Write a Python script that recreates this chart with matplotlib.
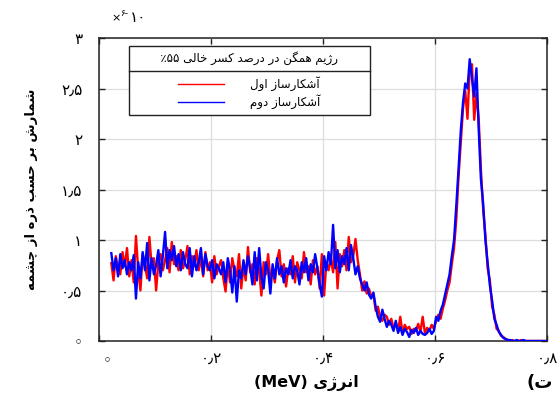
import numpy as np
import matplotlib
matplotlib.use("Agg")
import matplotlib.pyplot as plt
from matplotlib.ticker import FuncFormatter
from matplotlib.lines import Line2D

plt.rcParams["font.family"] = ["DejaVu Sans"]

# ---------------------------------------------------------------- data
# spectrum sampled every 4 keV starting at 0.022 MeV, counts in units of 1e-6
energy_start = 0.022
energy_step = 0.004

detector1 = [  # red
    0.77, 0.60, 0.84, 0.72, 0.66, 0.88, 0.74, 0.92, 0.64, 0.80,
    0.58, 1.04, 0.70, 0.50, 0.86, 0.76, 0.62, 1.03, 0.74, 0.82,
    0.50, 0.78, 0.86, 0.70, 0.80, 0.92, 0.68, 0.98, 0.76, 0.84,
    0.70, 0.90, 0.72, 0.80, 0.94, 0.66, 0.84, 0.74, 0.90, 0.70,
    0.82, 0.64, 0.88, 0.70, 0.78, 0.58, 0.84, 0.66, 0.74, 0.80,
    0.62, 0.49, 0.76, 0.58, 0.82, 0.70, 0.64, 0.86, 0.52, 0.74,
    0.60, 0.93, 0.68, 0.76, 0.56, 0.82, 0.70, 0.45, 0.78, 0.66,
    0.86, 0.62, 0.70, 0.58, 0.80, 0.90, 0.64, 0.76, 0.54, 0.72,
    0.66, 0.84, 0.58, 0.78, 0.70, 0.62, 0.88, 0.68, 0.74, 0.56,
    0.80, 0.66, 0.74, 0.52, 0.86, 0.45, 0.78, 0.70, 0.82, 0.68,
    0.98, 0.52, 0.86, 0.74, 0.90, 0.70, 1.03, 0.78, 0.84, 1.01,
    0.80, 0.66, 0.50, 0.59, 0.47, 0.52, 0.44, 0.47, 0.30, 0.34,
    0.24, 0.20, 0.26, 0.24, 0.16,
    0.22, 0.12, 0.18, 0.10, 0.24, 0.08, 0.16, 0.12, 0.14, 0.07,
    0.12, 0.10, 0.17, 0.09, 0.24, 0.08, 0.13, 0.10, 0.16, 0.12,
    0.20, 0.26, 0.22, 0.32, 0.40, 0.50, 0.58, 0.76, 0.92, 1.20,
    1.62, 1.96, 2.30, 2.48, 2.20, 2.70, 2.74, 2.19, 2.45, 2.20,
    1.70, 1.30, 1.05, 0.72, 0.60, 0.34, 0.26, 0.12, 0.10, 0.05,
    0.04, 0.02, 0.01,
    0.00, 0.01, 0.00, 0.00, 0.00, 0.01, 0.00, 0.00, 0.00, 0.00,
    0.00, 0.00, 0.00, 0.00, 0.00, 0.00, 0.00,
]

detector2 = [  # blue
    0.87, 0.70, 0.82, 0.64, 0.86, 0.72, 0.80, 0.66, 0.78, 0.70,
    0.85, 0.42, 0.78, 0.62, 0.88, 0.70, 0.97, 0.60, 0.82, 0.66,
    0.75, 0.90, 0.64, 0.84, 1.08, 0.72, 0.90, 0.80, 0.94, 0.74,
    0.86, 0.70, 0.88, 0.76, 0.72, 0.92, 0.64, 0.84, 0.70, 0.78,
    0.92, 0.66, 0.86, 0.74, 0.70, 0.80, 0.62, 0.76, 0.72, 0.66,
    0.78, 0.58, 0.82, 0.70, 0.48, 0.74, 0.39, 0.70, 0.62, 0.80,
    0.66, 0.84, 0.72, 0.56, 0.88, 0.60, 0.92, 0.64, 0.52, 0.78,
    0.70, 0.47, 0.76, 0.62, 0.82, 0.66, 0.74, 0.58, 0.72, 0.66,
    0.80, 0.62, 0.74, 0.70, 0.56, 0.78, 0.68, 0.82, 0.60, 0.76,
    0.68, 0.86, 0.72, 0.56, 0.44, 0.84, 0.70, 0.88, 0.76, 1.15,
    0.72, 0.90, 0.68, 0.84, 0.76, 0.92, 0.70, 0.95, 0.82, 0.66,
    0.74, 0.62, 0.56, 0.50, 0.58, 0.46, 0.42, 0.48, 0.34, 0.24,
    0.19, 0.31, 0.22, 0.14, 0.20,
    0.16, 0.10, 0.20, 0.08, 0.14, 0.06, 0.12, 0.09, 0.04, 0.11,
    0.08, 0.13, 0.06, 0.10, 0.07, 0.06, 0.08, 0.12, 0.07, 0.10,
    0.24, 0.20, 0.30, 0.36, 0.46, 0.56, 0.66, 0.84, 1.00, 1.34,
    1.70, 2.08, 2.36, 2.55, 2.50, 2.79, 2.60, 2.42, 2.70, 2.10,
    1.60, 1.36, 1.00, 0.78, 0.55, 0.40, 0.22, 0.16, 0.09, 0.06,
    0.03, 0.02, 0.01,
    0.01, 0.00, 0.00, 0.01, 0.00, 0.00, 0.01, 0.00, 0.00, 0.00,
    0.00, 0.00, 0.00, 0.00, 0.00, 0.00, 0.00,
]

x_ticks = [0.0, 0.2, 0.4, 0.6, 0.8]
y_ticks = [0.0, 0.5, 1.0, 1.5, 2.0, 2.5, 3.0]

energy = energy_start + energy_step * np.arange(len(detector1))

# ------------------------------------------------- Persian text helpers
# (isolated, final, initial, medial); right-joining letters have no initial/medial
_FORMS = {
    "ا": ("\uFE8D", "\uFE8E", None, None),
    "آ": ("\uFE81", "\uFE82", None, None),
    "د": ("\uFEA9", "\uFEAA", None, None),
    "ذ": ("\uFEAB", "\uFEAC", None, None),
    "ر": ("\uFEAD", "\uFEAE", None, None),
    "ز": ("\uFEAF", "\uFEB0", None, None),
    "ژ": ("\uFB8A", "\uFB8B", None, None),
    "و": ("\uFEED", "\uFEEE", None, None),
    "ب": ("\uFE8F", "\uFE90", "\uFE91", "\uFE92"),
    "ت": ("\uFE95", "\uFE96", "\uFE97", "\uFE98"),
    "ح": ("\uFEA1", "\uFEA2", "\uFEA3", "\uFEA4"),
    "خ": ("\uFEA5", "\uFEA6", "\uFEA7", "\uFEA8"),
    "س": ("\uFEB1", "\uFEB2", "\uFEB3", "\uFEB4"),
    "ش": ("\uFEB5", "\uFEB6", "\uFEB7", "\uFEB8"),
    "ص": ("\uFEB9", "\uFEBA", "\uFEBB", "\uFEBC"),
    "ل": ("\uFEDD", "\uFEDE", "\uFEDF", "\uFEE0"),
    "م": ("\uFEE1", "\uFEE2", "\uFEE3", "\uFEE4"),
    "ن": ("\uFEE5", "\uFEE6", "\uFEE7", "\uFEE8"),
    "ه": ("\uFEE9", "\uFEEA", "\uFEEB", "\uFEEC"),
    "چ": ("\uFB7A", "\uFB7B", "\uFB7C", "\uFB7D"),
    "ک": ("\uFB8E", "\uFB8F", "\uFB90", "\uFB91"),
    "گ": ("\uFB92", "\uFB93", "\uFB94", "\uFB95"),
    "ی": ("\uFBFC", "\uFBFD", "\uFBFE", "\uFBFF"),
}


def rtl(text):
    """Contextual shaping plus right-to-left ordering for a Persian phrase."""
    out = []
    for k, ch in enumerate(text):
        forms = _FORMS.get(ch)
        if forms is None:
            out.append(ch)
            continue
        prev = text[k - 1] if k > 0 else ""
        nxt = text[k + 1] if k + 1 < len(text) else ""
        join_prev = prev in _FORMS and _FORMS[prev][2] is not None
        join_next = forms[2] is not None and nxt in _FORMS
        if join_prev and join_next:
            out.append(forms[3])
        elif join_prev:
            out.append(forms[1])
        elif join_next:
            out.append(forms[2])
        else:
            out.append(forms[0])
    return "".join(reversed(out))


_FA_DIGITS = str.maketrans("0123456789.", "۰۱۲۳۴۵۶۷۸۹٫")


def fa_number(v):
    return f"{v:g}".translate(_FA_DIGITS)


# ---------------------------------------------------------------- figure
fig = plt.figure(figsize=(5.58, 3.96), dpi=100)
ax = fig.add_axes([99 / 558, 1 - 341 / 396, 448 / 558, 303 / 396])

line1, = ax.plot(energy, detector1, color="#ff0000", lw=1.7, zorder=3)
line2, = ax.plot(energy, detector2, color="#0000ff", lw=1.7, zorder=4)

ax.set_xlim(0, 0.8)
ax.set_ylim(0, 3)
ax.set_xticks(x_ticks)
ax.set_yticks(y_ticks)
ax.xaxis.set_major_formatter(FuncFormatter(lambda v, p: "" if v == 0 else fa_number(v)))
ax.yaxis.set_major_formatter(FuncFormatter(lambda v, p: "◦" if v == 0 else fa_number(v)))
ax.tick_params(direction="in", length=4, width=1, top=True, right=True,
               labelsize=11, colors="#222222", labelcolor="black")
ax.tick_params(axis="x", pad=7)
ax.tick_params(axis="y", pad=12)
ax.grid(True, color="#dddddd", lw=0.9, zorder=0)
ax.set_axisbelow(True)
for s in ax.spines.values():
    s.set_color("#222222")
    s.set_linewidth(1.1)

# zero of the energy axis
ax.annotate("◦", xy=(0, 0), xycoords=("data", "axes fraction"),
            xytext=(6, -14), textcoords="offset points",
            ha="center", va="center", fontsize=11)

ax.set_ylabel(rtl("شمارش بر حسب ذره از چشمه"), fontsize=9.5, fontweight="bold")
ax.yaxis.label.set_va("center")
ax.yaxis.set_label_coords((32 - 99) / 448, 0.5)

ax.set_xlabel("(MeV) " + rtl("انرژی"), fontsize=11.5, fontweight="bold")
ax.xaxis.label.set_va("center")
ax.xaxis.set_label_coords((306 - 99) / 448, (341 - 383) / 303)

# multiplier of the count axis
fig.text(111 / 558, 1 - 18 / 396, "×", fontsize=8, ha="left", va="center")
fig.text(120 / 558, 1 - 13 / 396, "۶-", fontsize=6.5, ha="left", va="center")
fig.text(130 / 558, 1 - 18 / 396, "۱۰", fontsize=11, ha="left", va="center")

# panel tag
fig.text(527 / 558, 1 - 383 / 396, "(" + rtl("ت"), fontsize=13, fontweight="bold",
         ha="left", va="center")

# legend
title = "\u00a0" * 7 + "٪۵۵ " + rtl("رژیم همگن در درصد کسر خالی") + "\u00a0" * 7
leg = ax.legend([line1, line2], [rtl("آشکارساز اول"), rtl("آشکارساز دوم")],
                title=title, loc="upper left",
                bbox_to_anchor=((129 - 99) / 448, (341 - 46) / 303),
                borderaxespad=0, frameon=True, fancybox=False, shadow=False,
                edgecolor="#222222", framealpha=1, fontsize=8.5, title_fontsize=8.5,
                borderpad=0.45, handlelength=3.9, handletextpad=2.2,
                labelspacing=0.3, alignment="center")
leg.get_frame().set_linewidth(1.0)
for h in leg.get_lines():
    h.set_linewidth(1.0)
leg._legend_box.sep = 8

fig.canvas.draw()
renderer = fig.canvas.get_renderer()
fb = leg.get_frame().get_window_extent(renderer)
tb = leg.get_title().get_window_extent(renderer)
eb = leg.get_texts()[0].get_window_extent(renderer)
ysep = (tb.y0 + eb.y1) / 2
inv = fig.transFigure.inverted()
(x0f, yf), (x1f, _) = inv.transform([(fb.x0, ysep), (fb.x1, ysep)])
fig.add_artist(Line2D([x0f, x1f], [yf, yf], transform=fig.transFigure,
                      color="#222222", lw=1.0, zorder=10))

fig.savefig("out.png", dpi=100)
